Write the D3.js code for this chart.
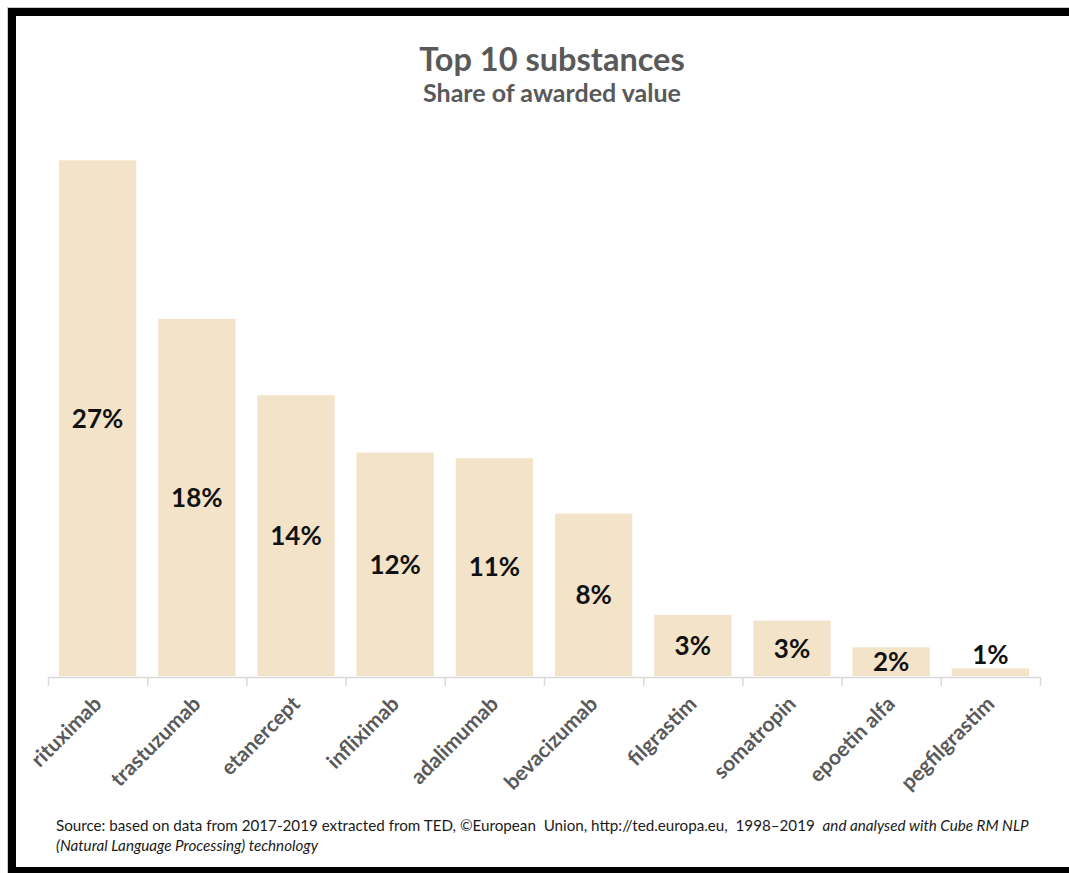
<!DOCTYPE html>
<html>
<head>
<meta charset="utf-8">
<script src="https://cdn.jsdelivr.net/npm/d3@7"></script>
<style>
  body { margin: 0; background: #fff; }
  text { font-family: Lato, "Open Sans", sans-serif; }
</style>
</head>
<body>
<div id="chart"></div>
<script>
var substances = ["rituximab", "trastuzumab", "etanercept", "infliximab", "adalimumab",
    "bevacizumab", "filgrastim", "somatropin", "epoetin alfa", "pegfilgrastim"];
var shares = [27.0, 18.7, 14.7, 11.7, 11.4, 8.5, 3.2, 2.9, 1.5, 0.4];
var shareLabels = ["27%", "18%", "14%", "12%", "11%", "8%", "3%", "3%", "2%", "1%"];

var width = 1069,
    height = 873;

var svg = d3.select("#chart")
    .append("svg")
    .attr("width", width)
    .attr("height", height);

// frame
svg.append("rect")
    .attr("x", 7.5).attr("y", 7.5)
    .attr("width", 1100).attr("height", 900)
    .attr("fill", "none")
    .attr("stroke", "#c8c8c8")
    .attr("stroke-width", 1);
svg.append("rect")
    .attr("x", 12).attr("y", 12)
    .attr("width", 1100).attr("height", 859)
    .attr("fill", "none")
    .attr("stroke", "#000")
    .attr("stroke-width", 8);

// titles
svg.append("text")
    .attr("x", 552).attr("y", 71)
    .attr("text-anchor", "middle")
    .style("font-size", "32.5px")
    .style("font-weight", "bold")
    .style("fill", "#595959")
    .text("Top 10 substances");
svg.append("text")
    .attr("x", 552).attr("y", 102)
    .attr("text-anchor", "middle")
    .style("font-size", "25px")
    .style("font-weight", "bold")
    .style("fill", "#595959")
    .text("Share of awarded value");

var x = d3.scaleBand()
    .domain(substances)
    .range([48, 1040])
    .paddingInner(0.22)
    .paddingOuter(0.11);

var y = d3.scaleLinear()
    .domain([0, 30])
    .range([676, 103]);

// bars
svg.selectAll(".bar")
    .data(substances)
    .enter()
    .append("rect")
    .attr("class", "bar")
    .attr("x", function (d) { return x(d) })
    .attr("y", function (_, i) { return y(shares[i]) })
    .attr("width", x.bandwidth())
    .attr("height", function (_, i) { return y(0) - y(shares[i]) })
    .style("fill", "#f3e3c9");

// value labels, centred in bar or above when the bar is too short
svg.selectAll(".val")
    .data(substances)
    .enter()
    .append("text")
    .attr("class", "val")
    .attr("x", function (d) { return x(d) + x.bandwidth() / 2 })
    .attr("y", function (_, i) {
        var h = y(0) - y(shares[i]);
        if (h < 15) return y(shares[i]) - 14;
        return (y(0) + y(shares[i])) / 2;
    })
    .attr("dy", "0.36em")
    .attr("text-anchor", "middle")
    .style("font-size", "26px")
    .style("font-weight", "bold")
    .style("fill", "#111")
    .text(function (_, i) { return shareLabels[i] });

// axis line with ticks on category boundaries
var edges = d3.scaleLinear()
    .domain([0, substances.length])
    .range([48, 1040]);
var baseAxis = svg.append("g")
    .attr("transform", "translate(0," + 677 + ")")
    .call(d3.axisBottom(edges)
        .tickValues(d3.range(substances.length + 1))
        .tickSize(9)
        .tickSizeOuter(0)
        .tickFormat(""));
baseAxis.selectAll("path, line").attr("stroke", "#d9d9d9").attr("stroke-width", 1.5);

// category labels
var catAxis = svg.append("g")
    .attr("transform", "translate(0," + 700 + ")")
    .call(d3.axisBottom(x).tickSize(0).tickPadding(0));
catAxis.select(".domain").remove();
catAxis.selectAll("text")
    .attr("text-anchor", "end")
    .attr("dy", "0.35em")
    .attr("transform", "rotate(-45)")
    .style("font-family", "Lato, sans-serif")
    .style("font-size", "21px")
    .style("font-weight", "bold")
    .style("fill", "#595959");

// source note
var note = svg.append("text")
    .attr("x", 56).attr("y", 831)
    .style("white-space", "pre")
    .style("font-size", "15.2px")
    .style("fill", "#1a1a1a");
note.append("tspan")
    .text("Source: based on data from 2017-2019 extracted from TED, \u00A9European  Union, http://ted.europa.eu,  1998\u20132019  ");
note.append("tspan")
    .style("font-style", "italic")
    .text("and analysed with Cube RM NLP");
svg.append("text")
    .attr("x", 56).attr("y", 851)
    .style("font-size", "15.2px")
    .style("font-style", "italic")
    .style("fill", "#1a1a1a")
    .text("(Natural Language Processing) technology");
</script>
</body>
</html>
